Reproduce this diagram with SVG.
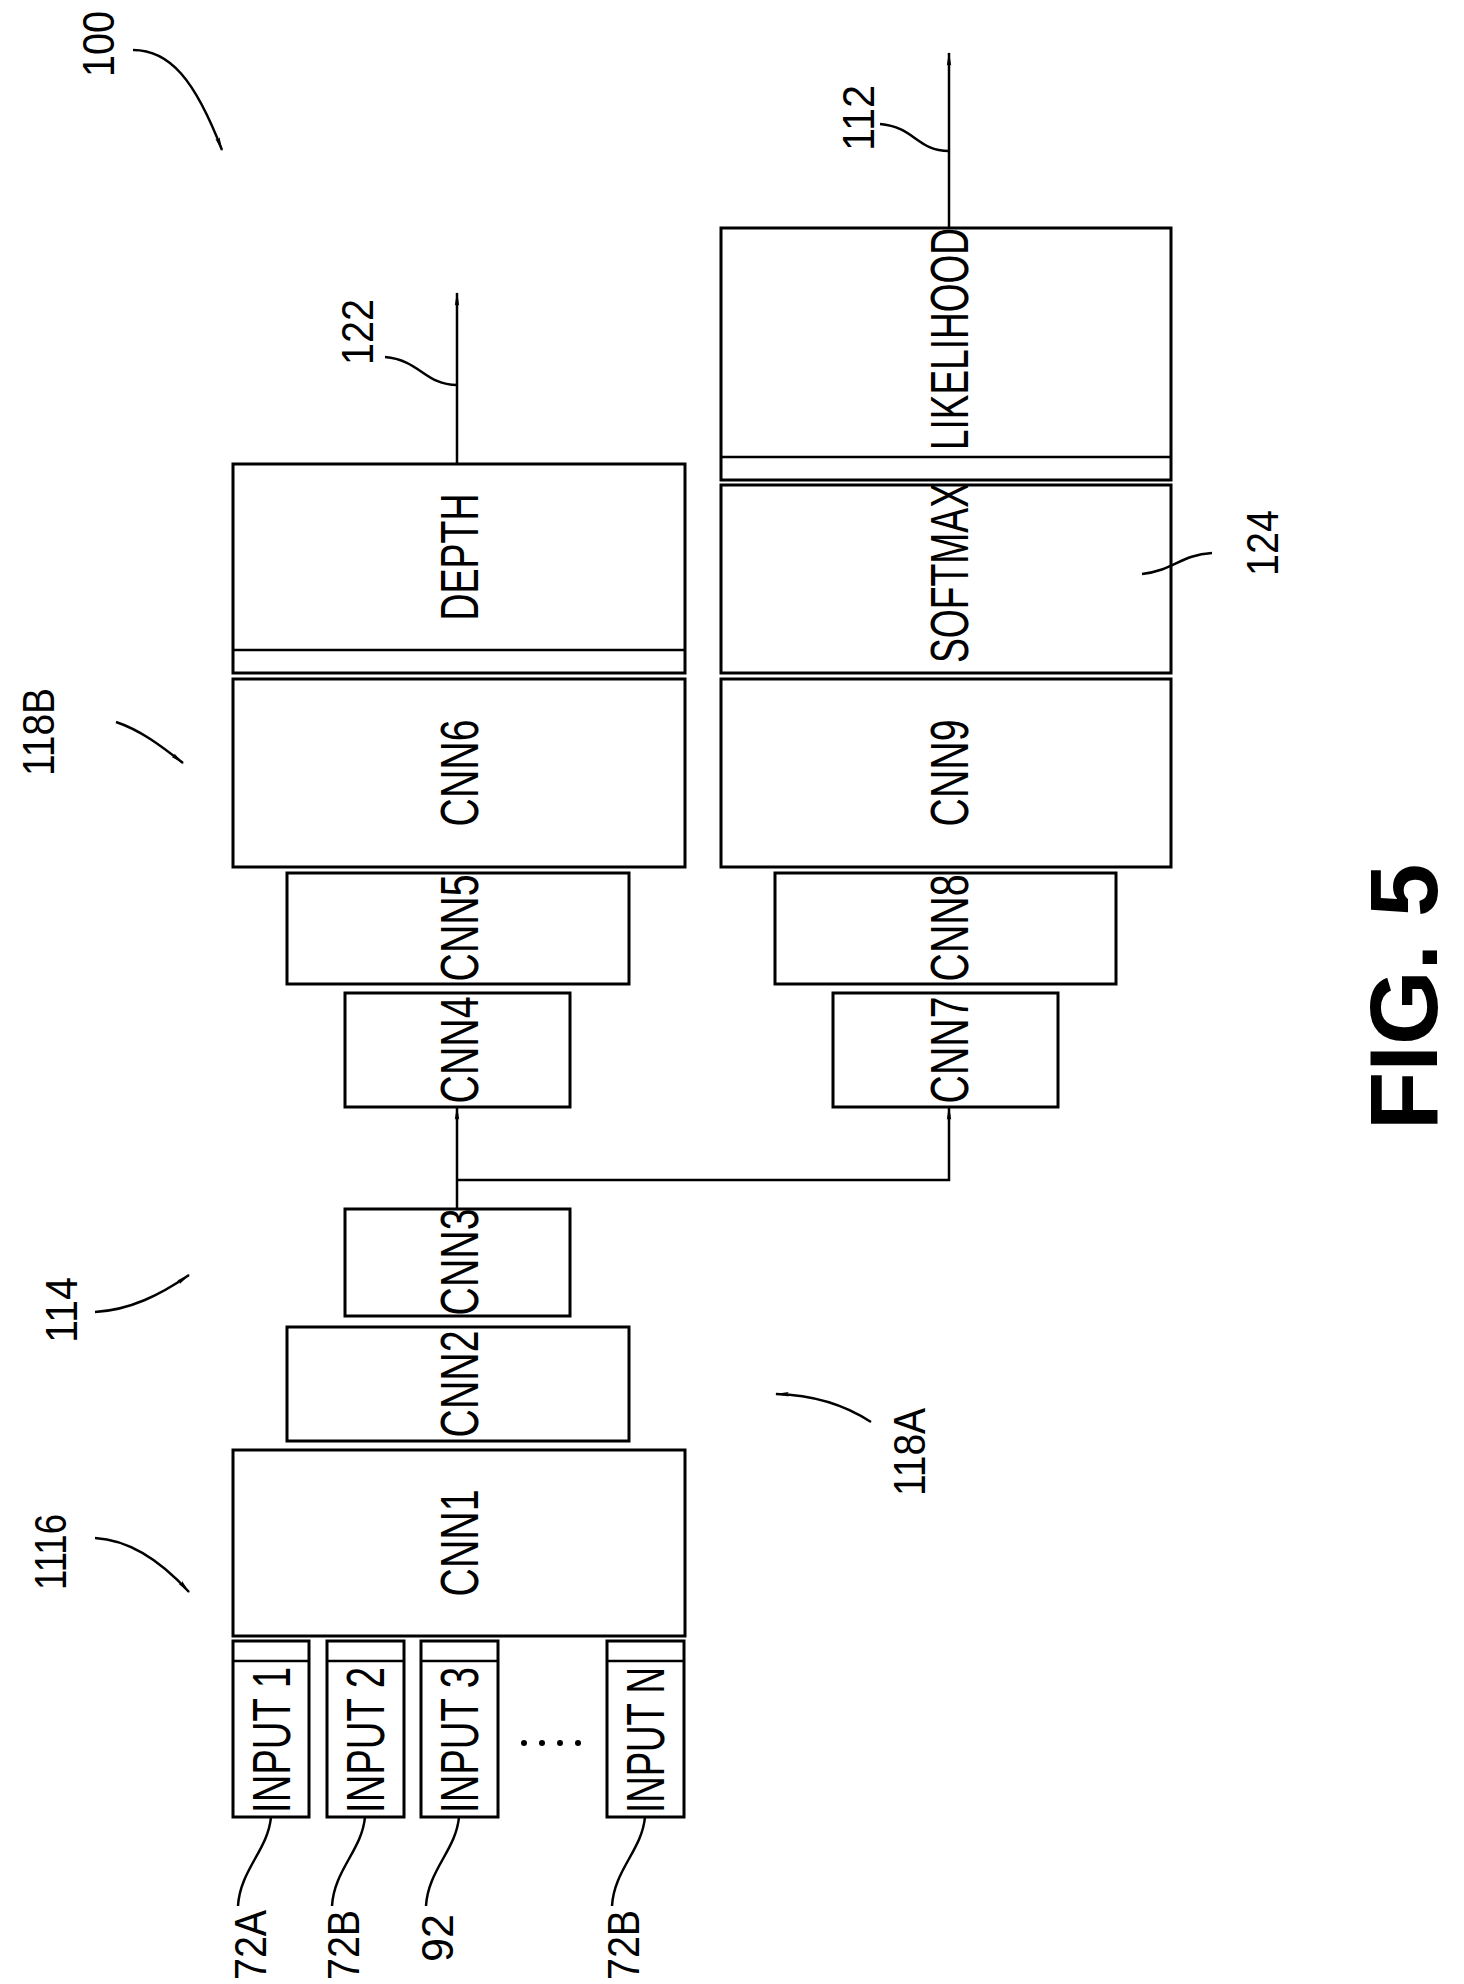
<svg xmlns="http://www.w3.org/2000/svg" width="1464" height="1984" viewBox="0 0 1464 1984">
<style>
.b{fill:#fff;stroke:#000;stroke-width:3}
.l{fill:none;stroke:#000;stroke-width:2.5}
.t{font-family:"Liberation Sans",Arial,sans-serif;font-size:54px;text-anchor:middle;dominant-baseline:central}
.n{font-family:"Liberation Sans",Arial,sans-serif;font-size:44px;text-anchor:middle;dominant-baseline:central}
</style>
<defs>
<marker id="a" markerWidth="14" markerHeight="44" refX="40" refY="7" orient="auto" markerUnits="userSpaceOnUse" viewBox="0 0 44 14">
<path d="M0,0 L44,7 L0,14 L6,7 Z" fill="#000"/>
</marker>
</defs>
<rect width="1464" height="1984" fill="#fff"/>
<g id="connectors">
<path class="l" d="M457,1209 V1107" marker-end="url(#a)"/>
<path class="l" d="M457,1180 H949 V1107" marker-end="url(#a)"/>
<path class="l" d="M457,464 V293" marker-end="url(#a)"/>
<path class="l" d="M949,228 V53" marker-end="url(#a)"/>
</g>
<g id="cnn1"><rect class="b" x="233" y="1450" width="452" height="186"/><text class="t" transform="translate(459,1543) rotate(-90)" textLength="107" lengthAdjust="spacingAndGlyphs">CNN1</text></g>
<g id="cnn2"><rect class="b" x="287" y="1327" width="342" height="114"/><text class="t" transform="translate(459,1384) rotate(-90)" textLength="107" lengthAdjust="spacingAndGlyphs">CNN2</text></g>
<g id="cnn3"><rect class="b" x="345" y="1209" width="225" height="107"/><text class="t" transform="translate(459,1262) rotate(-90)" textLength="107" lengthAdjust="spacingAndGlyphs">CNN3</text></g>
<g id="cnn4"><rect class="b" x="345" y="993" width="225" height="114"/><text class="t" transform="translate(459,1050) rotate(-90)" textLength="107" lengthAdjust="spacingAndGlyphs">CNN4</text></g>
<g id="cnn5"><rect class="b" x="287" y="873" width="342" height="111"/><text class="t" transform="translate(459,928) rotate(-90)" textLength="107" lengthAdjust="spacingAndGlyphs">CNN5</text></g>
<g id="cnn6"><rect class="b" x="233" y="679" width="452" height="188"/><text class="t" transform="translate(459,773) rotate(-90)" textLength="107" lengthAdjust="spacingAndGlyphs">CNN6</text></g>
<g id="depth"><rect class="b" x="233" y="464" width="452" height="209"/><line class="l" x1="233" y1="650" x2="685" y2="650"/><text class="t" transform="translate(459,557) rotate(-90)" textLength="127" lengthAdjust="spacingAndGlyphs">DEPTH</text></g>
<g id="cnn7"><rect class="b" x="833" y="993" width="225" height="114"/><text class="t" transform="translate(949,1050) rotate(-90)" textLength="107" lengthAdjust="spacingAndGlyphs">CNN7</text></g>
<g id="cnn8"><rect class="b" x="775" y="873" width="341" height="111"/><text class="t" transform="translate(949,928) rotate(-90)" textLength="107" lengthAdjust="spacingAndGlyphs">CNN8</text></g>
<g id="cnn9"><rect class="b" x="721" y="679" width="450" height="188"/><text class="t" transform="translate(949,773) rotate(-90)" textLength="107" lengthAdjust="spacingAndGlyphs">CNN9</text></g>
<g id="softmax"><rect class="b" x="721" y="485" width="450" height="188"/><text class="t" transform="translate(949,573) rotate(-90)" textLength="180" lengthAdjust="spacingAndGlyphs">SOFTMAX</text></g>
<g id="likelihood"><rect class="b" x="721" y="228" width="450" height="252"/><line class="l" x1="721" y1="457" x2="1171" y2="457"/><text class="t" transform="translate(949,339) rotate(-90)" textLength="222" lengthAdjust="spacingAndGlyphs">LIKELIHOOD</text></g>
<g id="input1"><rect class="b" x="233" y="1641" width="76" height="176"/><line class="l" x1="233" y1="1661" x2="309" y2="1661"/><text class="t" transform="translate(271,1740) rotate(-90)" textLength="146" lengthAdjust="spacingAndGlyphs">INPUT 1</text></g>
<g id="input2"><rect class="b" x="327" y="1641" width="77" height="176"/><line class="l" x1="327" y1="1661" x2="404" y2="1661"/><text class="t" transform="translate(365,1740) rotate(-90)" textLength="146" lengthAdjust="spacingAndGlyphs">INPUT 2</text></g>
<g id="input3"><rect class="b" x="421" y="1641" width="77" height="176"/><line class="l" x1="421" y1="1661" x2="498" y2="1661"/><text class="t" transform="translate(459,1740) rotate(-90)" textLength="146" lengthAdjust="spacingAndGlyphs">INPUT 3</text></g>
<g id="inputN"><rect class="b" x="607" y="1641" width="77" height="176"/><line class="l" x1="607" y1="1661" x2="684" y2="1661"/><text class="t" transform="translate(645,1740) rotate(-90)" textLength="146" lengthAdjust="spacingAndGlyphs">INPUT N</text></g>
<g id="dots" fill="#000"><circle cx="524" cy="1743" r="3"/><circle cx="542" cy="1743" r="3"/><circle cx="560" cy="1743" r="3"/><circle cx="578" cy="1743" r="3"/></g>
<g id="labels">
<path class="l" d="M271,1817 C268,1850 240,1870 238,1906"/>
<text class="n" transform="translate(250,1945) rotate(-90)" textLength="70" lengthAdjust="spacingAndGlyphs">72A</text>
<path class="l" d="M365,1817 C362,1850 334,1870 332,1906"/>
<text class="n" transform="translate(343,1945) rotate(-90)" textLength="70" lengthAdjust="spacingAndGlyphs">72B</text>
<path class="l" d="M459,1817 C456,1850 428,1870 426,1906"/>
<text class="n" transform="translate(437,1938) rotate(-90)" textLength="48" lengthAdjust="spacingAndGlyphs">92</text>
<path class="l" d="M645,1817 C642,1850 614,1870 612,1906"/>
<text class="n" transform="translate(623,1945) rotate(-90)" textLength="70" lengthAdjust="spacingAndGlyphs">72B</text>
<text class="n" transform="translate(98,44) rotate(-90)" textLength="66" lengthAdjust="spacingAndGlyphs">100</text>
<path class="l" d="M133,50 C170,50 195,80 222,150" marker-end="url(#a)"/>
<text class="n" transform="translate(38,732) rotate(-90)" textLength="88" lengthAdjust="spacingAndGlyphs">118B</text>
<path class="l" d="M116,722 C140,730 160,745 183,763" marker-end="url(#a)"/>
<text class="n" transform="translate(61,1310) rotate(-90)" textLength="66" lengthAdjust="spacingAndGlyphs">114</text>
<path class="l" d="M95,1312 C130,1310 160,1295 189,1275" marker-end="url(#a)"/>
<text class="n" transform="translate(50,1552) rotate(-90)" textLength="76" lengthAdjust="spacingAndGlyphs">1116</text>
<path class="l" d="M95,1538 C130,1540 160,1560 189,1592" marker-end="url(#a)"/>
<text class="n" transform="translate(909,1452) rotate(-90)" textLength="88" lengthAdjust="spacingAndGlyphs">118A</text>
<path class="l" d="M871,1422 C845,1405 815,1395 776,1394" marker-end="url(#a)"/>
<text class="n" transform="translate(357,332) rotate(-90)" textLength="66" lengthAdjust="spacingAndGlyphs">122</text>
<path class="l" d="M385,357 C420,360 425,385 457,385"/>
<text class="n" transform="translate(858,118) rotate(-90)" textLength="66" lengthAdjust="spacingAndGlyphs">112</text>
<path class="l" d="M880,124 C915,127 917,151 949,151"/>
<text class="n" transform="translate(1262,543) rotate(-90)" textLength="66" lengthAdjust="spacingAndGlyphs">124</text>
<path class="l" d="M1142,574 C1175,570 1180,555 1212,553"/>
<text transform="translate(1403,997) rotate(-90)" font-family="'Liberation Sans',Arial,sans-serif" font-weight="bold" font-size="96" text-anchor="middle" dominant-baseline="central">FIG. 5</text>
</g>
</svg>
